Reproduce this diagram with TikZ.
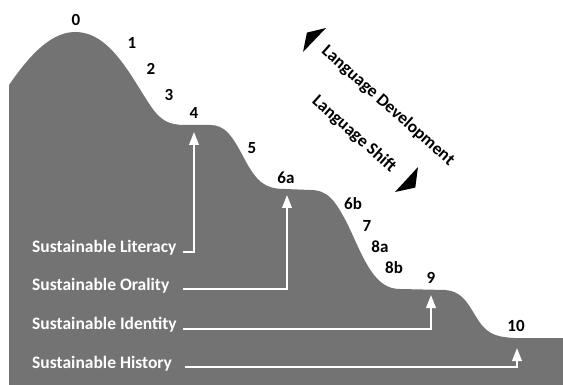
\documentclass[tikz,border=0pt]{standalone}
\usepackage{fontspec}
\setmainfont{Carlito}
\usetikzlibrary{arrows.meta}
\definecolor{hill}{RGB}{115,115,115}
\tikzset{
  num/.style={font=\bfseries\fontsize{17}{20}\selectfont, inner sep=0pt, text=black},
  sust/.style={font=\bfseries\fontsize{17.5}{20}\selectfont, inner sep=0pt, text=white, anchor=base west},
  diag/.style={font=\bfseries\fontsize{17.5}{20}\selectfont, inner sep=0pt, text=black, rotate=-41.5},
  sarrow/.style={draw=white, line width=2.2pt, -{Triangle[width=9.5pt,length=13pt]}},
  bighead/.style={fill=black}
}
\begin{document}
\begin{tikzpicture}[x=1pt,y=-1pt]
\useasboundingbox (0,0) rectangle (563,385);
\fill[white] (0,0) rectangle (563,385);

% terraced hillside
\fill[hill] (9,385) -- (9,85)
  .. controls (25,62) and (48,32) .. (75,32)
  .. controls (110,32) and (130,75) .. (150,105)
  .. controls (160,120) and (168,125) .. (185,125)
  -- (210,125)
  .. controls (225,125) and (232,135) .. (245,160)
  .. controls (257,182) and (265,189) .. (285,189)
  -- (310,190)
  .. controls (328,190) and (335,200) .. (348,225)
  .. controls (365,262) and (375,289) .. (400,289)
  -- (445,290)
  .. controls (460,291) and (466,300) .. (475,315)
  .. controls (485,332) and (492,337) .. (515,338)
  -- (563,338) -- (563,385) -- cycle;

% stage numbers
\node[num] (n0)  at (76,20)   {0};
\node[num] (n1)  at (132,43)  {1};
\node[num] (n2)  at (151,69)  {2};
\node[num] (n3)  at (169,95)  {3};
\node[num] (n4)  at (194,113) {4};
\node[num] (n5)  at (252,148) {5};
\node[num] (n6a) at (286,178) {6a};
\node[num] (n6b) at (353,204) {6b};
\node[num] (n7)  at (367,226) {7};
\node[num] (n8a) at (380,247) {8a};
\node[num] (n8b) at (394,268) {8b};
\node[num] (n9)  at (431,278) {9};
\node[num] (n10) at (516,326) {10};

% direction labels
\node[diag] (dev)   at (388,106) {Language Development};
\node[diag] (shift) at (354,134) {Language Shift};
\fill[bighead] (303,52) -- (326,28) -- (306.9,32.6) -- cycle;
\fill[bighead] (418,167) -- (395,192) -- (415.3,187.6) -- cycle;

% sustainability levels
\node[sust] (lit) at (32,252.3) {Sustainable Literacy};
\node[sust] (ora) at (32,290.7) {Sustainable Orality};
\node[sust] (ide) at (32,330)   {Sustainable Identity};
\node[sust] (his) at (32,368)   {Sustainable History};

\coordinate (s1) at (183,252);
\coordinate (s2) at (183,289.3);
\coordinate (s3) at (183,329.3);
\coordinate (s4) at (185,366.7);
\coordinate (t1) at (194,132);
\coordinate (t2) at (287,195);
\coordinate (t3) at (431,295);
\coordinate (t4) at (517,348);

\draw[sarrow] (s1) -| (t1);
\draw[sarrow] (s2) -| (t2);
\draw[sarrow] (s3) -| (t3);
\draw[sarrow] (s4) -| (t4);
\end{tikzpicture}
\end{document}
